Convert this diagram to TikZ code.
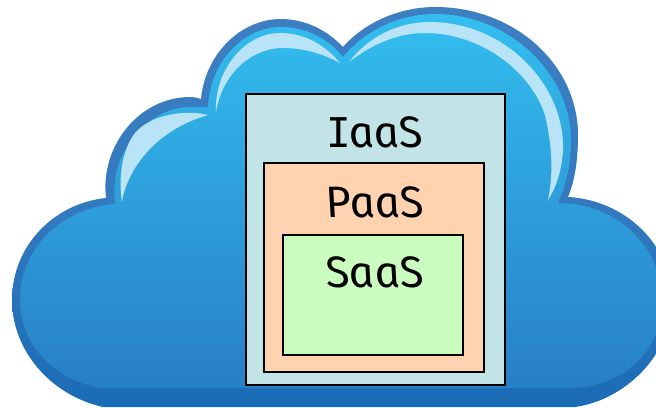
\documentclass[tikz,border=0pt]{standalone}
\usepackage{fontspec}
\setmainfont{Fira Sans}
\newfontfamily\roundf[UprightFont=* Italic,UprightFeatures={FakeSlant=-0.2}]{Fira Sans}
\newfontfamily\serifi{DejaVu Sans Mono}
\newcommand{\wordtxt}[1]{\fontsize{44}{50}\selectfont\roundf #1}
\newcommand{\capI}{{\serifi\fontsize{41}{50}\selectfont I}}
\definecolor{outlinetop}{HTML}{3E7FC2}
\definecolor{outlinebot}{HTML}{1A6CB6}
\definecolor{bodytop}{HTML}{33BEEF}
\definecolor{bodymid}{HTML}{16ABE4}
\definecolor{bodybot}{HTML}{287FC6}
\definecolor{gloss}{HTML}{B9E3F6}
\definecolor{iaasfill}{HTML}{C3E4E7}
\definecolor{paasfill}{HTML}{FFD3B0}
\definecolor{saasfill}{HTML}{CAFCBF}
\tikzset{
  layerbox/.style={draw=black,line width=2pt,anchor=north west,inner sep=0pt,outer sep=0pt},
  wordlabel/.style={anchor=base,inner sep=0pt,text=black},
  glossy/.style={fill=gloss,draw=none}
}
\begin{document}
\begin{tikzpicture}[x=1pt,y=-1pt]
\useasboundingbox (0,0) rectangle (656,407);
\clip (0,0) rectangle (656,407);
% outer outline
\shade[top color=outlinetop,bottom color=outlinebot,middle color=outlinetop!70!outlinebot]
  (103,407) .. controls (50,395) and (12,350) .. (12,300)
  .. controls (12,245) and (55,203) .. (106,198)
  .. controls (100,145) and (140,97) .. (190,97)
  .. controls (194,97) and (198,98) .. (201,99)
  .. controls (205,55) and (240,19) .. (281,19)
  .. controls (305,19) and (327,30) .. (343,47)
  .. controls (365,22) and (400,7) .. (435,7)
  .. controls (515,7) and (578,65) .. (578,135)
  .. controls (578,160) and (575,180) .. (568,197)
  .. controls (625,200) and (672,245) .. (672,300)
  .. controls (672,355) and (625,400) .. (575,407)
  -- cycle;
% inner body
\shade[top color=bodytop,middle color=bodymid,bottom color=bodybot]
  (100,388) .. controls (55,380) and (20,345) .. (20,300)
  .. controls (20,250) and (60,208) .. (115,204)
  .. controls (108,150) and (150,107) .. (190,107)
  .. controls (196,107) and (202,107) .. (208,107)
  .. controls (210,60) and (245,27) .. (281,27)
  .. controls (305,27) and (328,38) .. (343,57)
  .. controls (365,30) and (400,14) .. (435,14)
  .. controls (510,14) and (571,75) .. (571,140)
  .. controls (571,165) and (566,185) .. (558,203)
  .. controls (620,203) and (662,250) .. (662,300)
  .. controls (662,350) and (625,388) .. (568,388)
  -- cycle;
% gloss highlights
\fill[glossy] (208,115) .. controls (185,109) and (150,115) .. (135,133)
  .. controls (122,150) and (118,178) .. (122,202)
  .. controls (127,170) and (155,130) .. (208,115) -- cycle;
\fill[glossy] (216,112) .. controls (214,70) and (245,33) .. (280,33)
  .. controls (305,33) and (325,45) .. (340,63)
  .. controls (320,52) and (300,48) .. (283,48)
  .. controls (250,48) and (222,75) .. (216,112) -- cycle;
\fill[glossy] (349,62) .. controls (370,35) and (400,22) .. (430,22)
  .. controls (505,22) and (565,85) .. (563,150)
  .. controls (562,170) and (556,188) .. (548,200)
  .. controls (553,175) and (553,150) .. (545,115)
  .. controls (530,70) and (480,33) .. (425,33)
  .. controls (400,33) and (375,42) .. (349,62) -- cycle;
% nested boxes
\node[layerbox,fill=iaasfill,minimum width=259pt,minimum height=291pt] (iaas) at (246,94) {};
\node[layerbox,fill=paasfill,line width=1.7pt,minimum width=220pt,minimum height=209pt] (paas) at (264,163) {};
\node[layerbox,fill=saasfill,minimum width=180pt,minimum height=120pt] (saas) at (283,235) {};
% labels
\node[wordlabel] (iaaslabel) at (376,147) {\wordtxt{\capI aaS}};
\node[wordlabel] (paaslabel) at (377,217) {\wordtxt{PaaS}};
\node[wordlabel] (saaslabel) at (377,287) {\wordtxt{SaaS}};
\end{tikzpicture}
\end{document}
